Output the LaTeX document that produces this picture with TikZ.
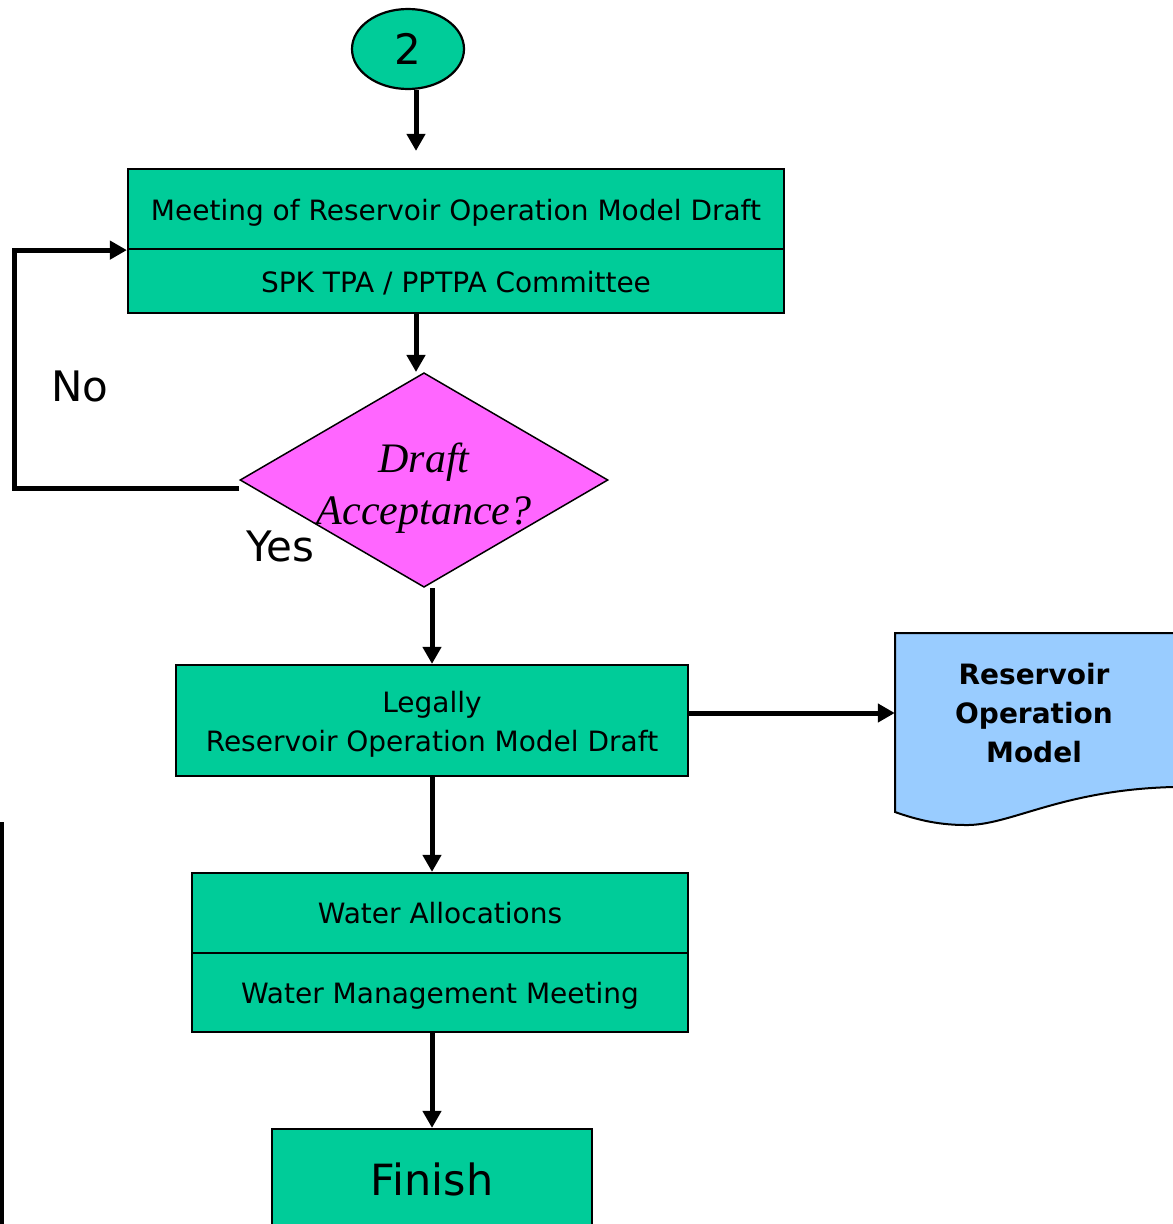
\documentclass[tikz,border=0pt]{standalone}
\usepackage{fontspec}
\setmainfont{DejaVu Sans}
\newfontfamily\decfont{Liberation Serif}
\usetikzlibrary{shapes.geometric,arrows.meta}
\definecolor{stepgreen}{HTML}{00CC99}
\definecolor{askpink}{HTML}{FF66FF}
\definecolor{docblue}{HTML}{99CCFF}
\tikzset{stepbox/.style = {shape=rectangle,draw,line width=2.2pt,fill=stepgreen,inner sep=0pt,font=\fontsize{28}{39}\selectfont,align=center}}
\tikzset{flow/.style = {-{Triangle[length=17pt,width=18pt]},line width=5pt}}
\tikzset{bigtext/.style = {font=\fontsize{42}{50}\selectfont}}
\newcommand{\lowertext}[2]{\raisebox{-#1}[\height][\depth]{#2}}

\begin{document}
\begin{tikzpicture}[x=1pt,y=-1pt]
  \useasboundingbox (0,0) rectangle (1173,1224);
  \clip (0,0) rectangle (1173,1224);

  % document shape on the right
  \draw[line width=2pt,fill=docblue] (895,633) -- (1180,633) -- (1180,787) -- (1173,787)
    .. controls (1060,790) and (1010,826) .. (965,825)
    .. controls (935,825) and (912,818) .. (895,812) -- cycle;

  \node[stepbox,ellipse,minimum width=112pt,minimum height=80pt,font=\fontsize{42}{50}\selectfont] (start) at (408,49) {2};
  \node[stepbox,minimum width=656pt,minimum height=80pt] (meet) at (456,209) {\lowertext{4pt}{Meeting of Reservoir Operation Model Draft}};
  \node[stepbox,minimum width=656pt,minimum height=64pt] (comm) at (456,281) {\lowertext{2pt}{SPK TPA / PPTPA Committee}};
  \node[diamond,draw,line width=1.5pt,fill=askpink,inner sep=0pt,minimum width=368pt,minimum height=209pt,
        font=\decfont\itshape\fontsize{42}{52}\selectfont] (ask) at (424,480)
        {\raisebox{-14pt}[0pt][0pt]{\begin{tabular}{@{}c@{}}Draft\\Acceptance?\end{tabular}}};
  \node[bigtext] (no) at (80,386) {No};
  \node[bigtext] (yes) at (280,546) {Yes};
  \node[stepbox,minimum width=512pt,minimum height=111pt] (legal) at (432,720.5) {\lowertext{4pt}{\begin{tabular}{@{}c@{}}Legally\\Reservoir Operation Model Draft\end{tabular}}};
  \node[font=\bfseries\fontsize{28}{39}\selectfont,align=center,minimum width=278pt,inner sep=0pt] (doc) at (1034,713) {Reservoir\\Operation\\Model};
  \node[stepbox,minimum width=496pt,minimum height=80pt] (alloc) at (440,913) {Water Allocations};
  \node[stepbox,minimum width=496pt,minimum height=79pt] (mgmt) at (440,992.5) {\lowertext{3pt}{Water Management Meeting}};
  \node[stepbox,minimum width=320pt,minimum height=100pt,font=\fontsize{43}{50}\selectfont] (fin) at (432,1179) {Finish};

  \draw[flow,shorten >=17pt] ([xshift=8pt]start.south) -- ([xshift=-40pt]meet.north);
  \draw[flow] ([xshift=-40pt]comm.south) -- ([xshift=-8pt]ask.north);
  \draw[flow] ([yshift=-8pt]ask.west) -- ++(-225,0) |- (meet.south west);
  \draw[flow] ([xshift=8pt]ask.south) -- (legal.north);
  \draw[flow] (legal.east |- doc.west) -- (doc.west);
  \draw[flow] (legal.south) -- ([xshift=-8pt]alloc.north);
  \draw[flow] ([xshift=-8pt]mgmt.south) -- (fin.north);

  \draw[line width=4pt] (2,822) -- (2,1224);
\end{tikzpicture}
\end{document}
